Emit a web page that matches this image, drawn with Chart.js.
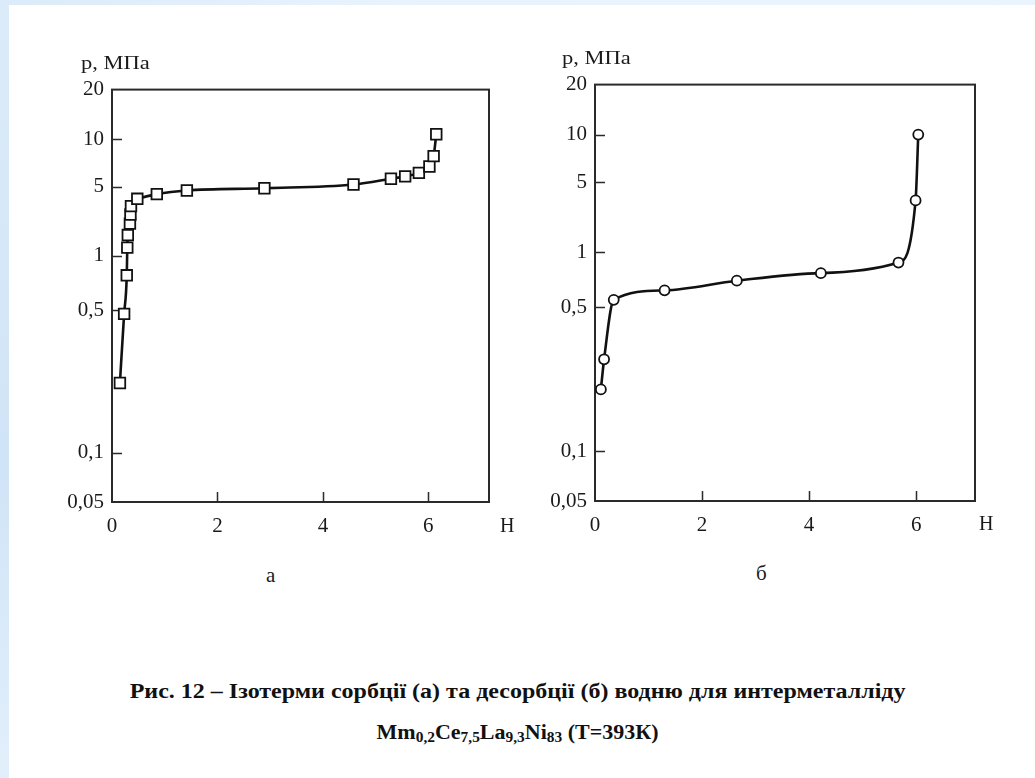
<!DOCTYPE html>
<html>
<head>
<meta charset="utf-8">
<script src="https://cdn.jsdelivr.net/npm/chart.js@4/dist/chart.umd.min.js"></script>
<style>
  html, body { margin: 0; padding: 0; }
  body {
    width: 1035px; height: 778px; position: relative; overflow: hidden;
    background: linear-gradient(180deg, #dcebf9 0%, #d0e4f7 60%, #e2effb 100%);
  }
  #sheet {
    position: absolute; left: 9px; top: 5px; right: 0; bottom: 0; background: #fff;
  }
  .topstrip { position: absolute; left: 0; top: 0; width: 1035px; height: 5px;
    background: linear-gradient(90deg, #dcebf9, #e8f3fd 40%, #eaf4fd); }
  canvas { position: absolute; }
  .lbl { position: absolute; font-family: "Liberation Serif", serif; color: #1a1a1a;
    white-space: nowrap; line-height: 20px; }
  .ytitle { transform: scaleX(1.25); transform-origin: 0 50%; }
  .cap { position: absolute; left: 0; width: 1035px; text-align: center;
    font-family: "Liberation Serif", serif; font-weight: bold; font-size: 20px; color: #111;
    transform: scaleX(1.2); transform-origin: 517px 50%; }
  .cap.formula { transform: scaleX(1.1); }
  .cap sub { font-size: 14px; vertical-align: -3px; line-height: 0; }
</style>
</head>
<body>
<div class="topstrip"></div>
<div id="sheet"></div>
<canvas id="chartA" width="460" height="471" style="left:50px;top:69px;"></canvas>
<canvas id="chartB" width="465" height="475" style="left:533px;top:64px;"></canvas>

<div class="lbl ytitle" style="left:81px;top:53px;font-size:18px;">р, МПа</div>
<div class="lbl ytitle" style="left:562px;top:48px;font-size:18px;">р, МПа</div>
<div class="lbl" style="left:500px;top:515px;font-size:20px;">Н</div>
<div class="lbl" style="left:979px;top:513px;font-size:20px;">Н</div>
<div class="lbl" style="left:266px;top:565px;font-size:21px;">а</div>
<div class="lbl" style="left:756px;top:563px;font-size:21px;">б</div>

<div class="cap" style="top:680px;">Рис. 12 – Ізотерми сорбції (а) та десорбції (б) водню для интерметалліду</div>
<div class="cap formula" style="top:721px;">Mm<sub>0,2</sub>Ce<sub>7,5</sub>La<sub>9,3</sub>Ni<sub>83</sub> (T=393К)</div>

<script>
// pressure axis (MPa) and hydrogen content axis
const yTicks = [0.05, 0.1, 0.5, 1, 5, 10, 20];
const yTickLabels = ['0,05', '0,1', '0,5', '1', '5', '10', '20'];
const xTicks = [0, 2, 4, 6];

// (a) sorption isotherm
const sorbH = [0.15, 0.23, 0.28, 0.29, 0.30, 0.34, 0.35, 0.36, 0.48, 0.85, 1.42, 2.89, 4.58, 5.29, 5.56, 5.82, 6.02, 6.10, 6.15];
const sorbP = [0.22, 0.48, 0.78, 1.21, 1.62, 2.11, 2.61, 3.17, 3.76, 4.19, 4.56, 4.80, 5.15, 5.60, 5.80, 6.10, 6.70, 7.80, 10.7];

// (б) desorption isotherm
const desorbH = [0.11, 0.17, 0.35, 1.30, 2.65, 4.22, 5.67, 5.99, 6.04];
const desorbP = [0.20, 0.28, 0.55, 0.62, 0.70, 0.77, 0.88, 3.31, 10.0];

// the printed pressure axis is not evenly logarithmic: each tick sits at its own
// height (fraction of the axis from the bottom), log-spaced between ticks
const tickHeights = [0, 0.119, 0.465, 0.597, 0.765, 0.88, 1];

class PrintedLogScale extends Chart.LinearScale {
  static id = 'printedLog';
  static defaults = {};

  getPixelForValue(value) {
    if (value === null || isNaN(value)) return NaN;
    let i = 0;
    while (i < yTicks.length - 2 && value > yTicks[i + 1]) i++;
    const lo = Math.log(yTicks[i]), hi = Math.log(yTicks[i + 1]);
    const t = (Math.log(value) - lo) / (hi - lo);
    return this.getPixelForDecimal(tickHeights[i] + t * (tickHeights[i + 1] - tickHeights[i]));
  }

  getValueForPixel(pixel) {
    const d = this.getDecimalForPixel(pixel);
    let i = 0;
    while (i < tickHeights.length - 2 && d > tickHeights[i + 1]) i++;
    const t = (d - tickHeights[i]) / (tickHeights[i + 1] - tickHeights[i]);
    return Math.exp(Math.log(yTicks[i]) + t * (Math.log(yTicks[i + 1]) - Math.log(yTicks[i])));
  }
}
Chart.register(PrintedLogScale);

// box around the plot with short inward tick marks
const framePlugin = {
  id: 'frame',
  beforeDatasetsDraw(chart) {
    const { ctx, chartArea: a, scales: { x, y } } = chart;
    ctx.save();
    ctx.strokeStyle = '#2a2a2a';
    ctx.lineWidth = 2;
    ctx.strokeRect(a.left, a.top, a.right - a.left, a.bottom - a.top);
    ctx.lineWidth = 1.5;
    ctx.beginPath();
    x.ticks.forEach((t) => {
      if (t.value <= x.min) return;
      const px = Math.round(x.getPixelForValue(t.value)) + 0.5;
      ctx.moveTo(px, a.bottom);
      ctx.lineTo(px, a.bottom - 10);
    });
    y.ticks.forEach((t) => {
      if (t.value <= y.min || t.value >= y.max) return;
      const py = Math.round(y.getPixelForValue(t.value)) + 0.5;
      ctx.moveTo(a.left, py);
      ctx.lineTo(a.left + 10, py);
    });
    ctx.stroke();
    ctx.restore();
  }
};

const tickFont = { family: '"Liberation Serif", serif', size: 21 };

function isothermChart(canvasId, hs, ps, xMax, marker, markerSize, padTop, padRight) {
  const ctx = document.getElementById(canvasId).getContext('2d');
  return new Chart(ctx, {
    type: 'line',
    data: {
      datasets: [{
        data: hs.map((h, i) => ({ x: h, y: ps[i] })),
        borderColor: '#111',
        borderWidth: 2.6,
        cubicInterpolationMode: 'monotone',
        pointStyle: marker,
        pointRadius: markerSize,
        pointBorderWidth: 1.8,
        pointBackgroundColor: '#fff',
        pointBorderColor: '#111',
        fill: false
      }]
    },
    options: {
      responsive: false,
      animation: false,
      devicePixelRatio: 1,
      layout: { padding: { top: padTop, right: padRight, left: 0, bottom: 0 } },
      plugins: { legend: { display: false }, tooltip: { enabled: false } },
      scales: {
        x: {
          type: 'linear',
          min: 0,
          max: xMax,
          afterBuildTicks: (s) => { s.ticks = xTicks.map((v) => ({ value: v })); },
          afterFit: (s) => { s.height = 38; },
          grid: { display: false, drawTicks: false },
          border: { display: false },
          ticks: { font: tickFont, color: '#1a1a1a', padding: 12, maxRotation: 0 }
        },
        y: {
          type: 'printedLog',
          min: 0.05,
          max: 20,
          afterBuildTicks: (s) => { s.ticks = yTicks.map((v) => ({ value: v })); },
          afterFit: (s) => { s.width = 62; },
          grid: { display: false, drawTicks: false },
          border: { display: false },
          ticks: {
            font: tickFont,
            color: '#1a1a1a',
            padding: 8,
            autoSkip: false,
            callback: (v, i) => yTickLabels[i]
          }
        }
      }
    },
    plugins: [framePlugin]
  });
}

isothermChart('chartA', sorbH, sorbP, 7.15, 'rect', 7.5, 9, 21);
isothermChart('chartB', desorbH, desorbP, 7.1, 'circle', 5, 9, 23);
</script>
</body>
</html>
